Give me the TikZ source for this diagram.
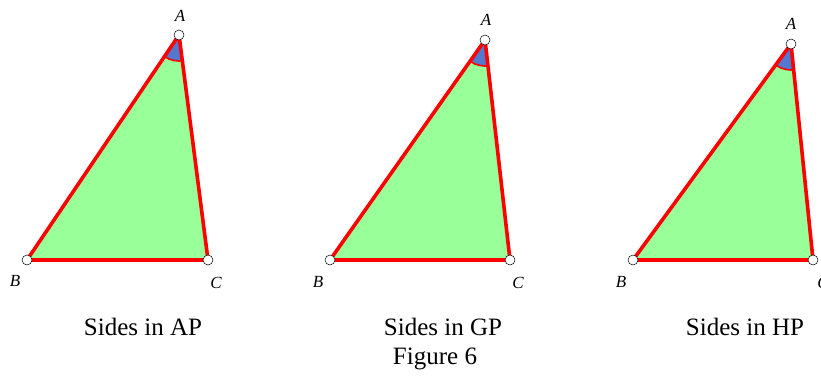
\documentclass[tikz,border=0pt]{standalone}
\usepackage{fontspec}
\setmainfont{Liberation Serif}
\definecolor{trigreen}{RGB}{153,255,153}
\definecolor{triblue}{RGB}{82,120,208}
\definecolor{trired}{RGB}{255,0,0}
\tikzset{
  side/.style={draw=trired,line width=3.6pt,line join=round},
  vert/.style={circle,draw=black,fill=white,line width=0.5pt,inner sep=0pt,minimum size=10pt},
  vlabel/.style={font=\fontsize{17}{17}\selectfont\itshape,inner sep=0pt},
  caption/.style={font=\fontsize{25}{25}\selectfont,inner sep=0pt}
}
\newcommand{\tri}[9]{%
  % #1 name, #2 A, #3 B, #4 C, #5 Alabel, #6 Blabel, #7 Clabel
  \coordinate (#1A) at #2;
  \coordinate (#1B) at #3;
  \coordinate (#1C) at #4;
  \fill[trigreen] (#1A) -- (#1B) -- (#1C) -- cycle;
  \begin{scope}
    \clip (#1A) -- (#1B) -- (#1C) -- cycle;
    \fill[triblue] (#1A) circle (26);
    \draw[trired,line width=1.6pt] (#1A) circle (26);
  \end{scope}
  \draw[side] (#1A) -- (#1B) -- (#1C) -- cycle;
  \node[vert] (#1a) at (#1A) {};
  \node[vert] (#1b) at (#1B) {};
  \node[vert] (#1c) at (#1C) {};
  \node[vlabel] (#1la) at #5 {A};
  \node[vlabel] (#1lb) at #6 {B};
  \node[vlabel] (#1lc) at #7 {C};
  \node[caption] (#1cap) at #8 {#9};
}
\begin{document}
\begin{tikzpicture}[x=1pt,y=-1pt]
\useasboundingbox (0,0) rectangle (821,375);
\tri{p}{(179,35)}{(27,260)}{(208,260)}{(180,16)}{(15,281)}{(216,283)}{(143,327)}{Sides in AP}
\tri{q}{(485,40)}{(330,260)}{(510,260)}{(486,20)}{(318,282)}{(518,283)}{(443,327)}{Sides in GP}
\tri{r}{(791,44)}{(633,260)}{(813,260)}{(791,24)}{(621,282)}{(823,283)}{(745,327)}{Sides in HP}
\node[caption] (fig) at (435,359) {Figure 6};
\end{tikzpicture}
\end{document}
